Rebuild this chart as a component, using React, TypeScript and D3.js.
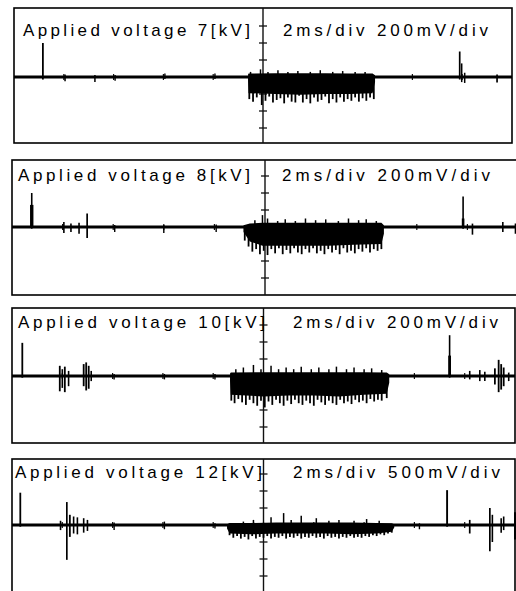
import * as d3 from "d3";

// Oscilloscope traces: time in ms (10 div × 2 ms), amplitude in divisions.
const voltageLabels = ["Applied voltage 7[kV]", "Applied voltage 8[kV]", "Applied voltage 10[kV]", "Applied voltage 12[kV]"];
const scaleLabels = ["2ms/div 200mV/div", "2ms/div 200mV/div", "2ms/div 200mV/div", "2ms/div 500mV/div"];

// isolated pulses: [t, high, low, width]
const pulses7 = [
  [1.16, 2.0, -0.15, 1.8], [2.05, 0.15, -0.25, 1.5], [3.25, 0.12, -0.3, 1.5], [4.06, 0.12, -0.22, 1.4],
  [6.06, 0.2, -0.12, 1.4], [8.07, 0.2, -0.12, 1.4], [17.9, 1.5, -0.15, 1.7], [17.98, 0.8, -0.3, 1.5],
  [18.1, 0.25, -0.35, 1.5], [19.4, 0.15, -0.32, 1.7],
];
const pulses8 = [
  [0.78, 2.0, -0.1, 1.6], [0.78, 1.3, 0, 3.4], [2.05, 0.3, -0.35, 1.6], [2.33, 0.2, -0.3, 1.6],
  [2.65, 0.25, -0.4, 1.6], [2.97, 0.8, -0.65, 1.7], [4.06, 0.12, -0.3, 1.4], [6.0, 0.12, -0.35, 1.4],
  [8.07, 0.15, -0.3, 1.4], [17.83, 1.8, -0.1, 1.6], [17.83, 0.5, 0, 2.6], [18.2, 0.2, -0.45, 1.6],
  [19.4, 0.3, -0.3, 1.6], [19.9, 0.2, -0.4, 1.6],
];
const pulses10 = [
  [0.41, 1.95, -0.1, 1.8], [1.9, 0.6, -0.9, 1.8], [2.0, 0.4, -0.7, 1.6], [2.1, 0.55, -0.95, 1.8],
  [2.25, 0.3, -0.6, 1.6], [2.85, 0.7, -0.6, 1.8], [2.95, 0.8, -0.85, 1.8], [3.05, 0.6, -0.75, 1.8],
  [3.15, 0.3, -0.3, 1.6], [4.06, 0.12, -0.2, 1.4], [6.06, 0.12, -0.2, 1.4], [8.07, 0.12, -0.2, 1.4],
  [17.4, 2.4, -0.1, 1.6], [17.4, 1.2, 0, 2.8], [18.2, 0.3, -0.2, 1.6], [18.6, 0.35, -0.3, 1.6],
  [18.8, 0.25, -0.3, 1.6], [19.2, 0.45, -0.5, 1.8], [19.35, 0.95, -0.95, 1.8], [19.45, 0.7, -0.8, 1.8],
  [19.55, 0.5, -0.6, 1.8], [19.75, 0.2, -0.3, 1.6],
];
const pulses12 = [
  [0.33, 1.9, -0.1, 1.8], [1.93, 0.25, -0.3, 1.6], [2.18, 1.35, -2.05, 1.7], [2.3, 0.6, -0.7, 1.8],
  [2.45, 0.5, -0.5, 1.6], [2.6, 0.45, -0.55, 1.6], [2.85, 0.4, -0.45, 1.6], [3.0, 0.3, -0.35, 1.6],
  [4.06, 0.15, -0.3, 1.4], [6.06, 0.2, -0.25, 1.4], [8.07, 0.1, -0.2, 1.4], [16.2, 0.1, -0.25, 1.4],
  [17.3, 2.05, -0.1, 1.9], [18.2, 0.3, -0.5, 1.7], [19.0, 1.0, -1.55, 1.7], [19.1, 0.6, -1.0, 1.6],
  [19.45, 0.4, -0.45, 1.6], [19.55, 0.5, -0.3, 1.6], [20.0, 0.75, -0.85, 2.0],
];

// burst body envelope: [t, top, bottom]
const body7 = [[9.4, 0.15, -0.2], [9.42, 0.2, -0.95], [10.5, 0.22, -1.0], [11.5, 0.22, -1.05], [12.5, 0.22, -1.0], [13.5, 0.2, -1.0], [14.4, 0.2, -0.95], [14.5, 0.1, -0.3]];
const body8 = [[9.15, 0.1, -0.3], [9.4, 0.2, -0.85], [9.9, 0.25, -1.1], [11, 0.25, -1.1], [12.5, 0.25, -1.1], [13.5, 0.25, -1.05], [14.6, 0.25, -1.0], [14.7, 0.1, -0.4]];
const body10 = [[8.67, 0.15, -0.3], [8.7, 0.2, -1.1], [10, 0.22, -1.2], [11, 0.22, -1.15], [12, 0.22, -1.15], [13, 0.22, -1.2], [14, 0.22, -1.1], [14.9, 0.2, -1.05], [15.0, 0.1, -0.4]];
const body12 = [[8.55, 0.05, -0.2], [8.65, 0.12, -0.5], [9.5, 0.12, -0.55], [10.5, 0.15, -0.5], [11.5, 0.15, -0.5], [12.5, 0.15, -0.5], [13.5, 0.15, -0.55], [14.5, 0.12, -0.5], [15.1, 0.1, -0.4], [15.2, 0.05, -0.15]];

// burst spikes below the body: [t, low]
const low7 = [
  [9.45, -1.3], [9.6, -1.45], [9.75, -1.2], [9.95, -1.65], [10.1, -1.4], [10.25, -1.15], [10.4, -1.5], [10.55, -1.35],
  [10.7, -1.25], [10.85, -1.55], [11.0, -1.2], [11.15, -1.45], [11.3, -1.5], [11.45, -1.1], [11.6, -1.5], [11.75, -1.3],
  [11.9, -1.55], [12.05, -1.2], [12.2, -1.45], [12.35, -1.35], [12.5, -1.15], [12.65, -1.55], [12.8, -1.3], [12.95, -1.5],
  [13.1, -1.2], [13.25, -1.45], [13.4, -1.3], [13.55, -1.4], [13.7, -1.2], [13.85, -1.45], [14.0, -1.25], [14.15, -1.4],
  [14.3, -1.2], [14.45, -1.3],
];
const low8 = [
  [9.2, -0.8], [9.35, -1.15], [9.5, -1.45], [9.65, -1.3], [9.8, -1.6], [9.95, -1.4], [10.1, -1.65], [10.25, -1.3],
  [10.4, -1.55], [10.55, -1.25], [10.7, -1.6], [10.85, -1.35], [11.0, -1.55], [11.15, -1.25], [11.3, -1.5], [11.45, -1.6],
  [11.6, -1.3], [11.75, -1.5], [11.9, -1.25], [12.05, -1.55], [12.2, -1.4], [12.35, -1.6], [12.5, -1.3], [12.65, -1.5],
  [12.8, -1.35], [12.95, -1.6], [13.1, -1.25], [13.25, -1.5], [13.4, -1.4], [13.55, -1.55], [13.7, -1.3], [13.85, -1.45],
  [14.0, -1.25], [14.15, -1.5], [14.3, -1.3], [14.45, -1.4], [14.6, -1.3],
];
const low10 = [
  [8.72, -1.45], [8.85, -1.6], [9.0, -1.35], [9.15, -1.55], [9.3, -1.7], [9.45, -1.4], [9.6, -1.6], [9.75, -1.75],
  [9.9, -1.45], [10.05, -1.85], [10.2, -1.5], [10.35, -1.7], [10.5, -1.4], [10.65, -1.6], [10.8, -1.75], [10.95, -1.45],
  [11.1, -1.65], [11.25, -1.4], [11.4, -1.6], [11.55, -1.7], [11.7, -1.45], [11.85, -1.6], [12.0, -1.75], [12.15, -1.4],
  [12.3, -1.55], [12.45, -1.7], [12.6, -1.45], [12.75, -1.6], [12.9, -1.7], [13.05, -1.4], [13.2, -1.6], [13.35, -1.5],
  [13.5, -1.65], [13.65, -1.4], [13.8, -1.55], [13.95, -1.45], [14.1, -1.6], [14.25, -1.35], [14.4, -1.5], [14.55, -1.4],
  [14.7, -1.45], [14.9, -1.3],
];
const low12 = [
  [8.65, -0.6], [8.8, -0.75], [8.95, -0.65], [9.1, -0.8], [9.25, -0.7], [9.4, -0.85], [9.55, -0.65], [9.7, -0.8],
  [9.85, -0.7], [10.0, -0.75], [10.15, -0.65], [10.3, -0.8], [10.45, -0.7], [10.6, -0.75], [10.75, -0.65], [10.9, -0.8],
  [11.05, -0.7], [11.2, -0.75], [11.35, -0.65], [11.5, -0.8], [11.65, -0.7], [11.8, -0.75], [11.95, -0.65], [12.1, -0.75],
  [12.25, -0.7], [12.4, -0.8], [12.55, -0.65], [12.7, -0.75], [12.85, -0.7], [13.0, -0.8], [13.15, -0.7], [13.3, -0.75],
  [13.45, -0.65], [13.6, -0.75], [13.75, -0.7], [13.9, -0.75], [14.05, -0.65], [14.2, -0.7], [14.35, -0.6], [14.5, -0.65],
  [14.65, -0.55], [14.8, -0.6], [14.95, -0.5], [15.1, -0.45],
];

// burst spikes above the body: [t, high]
const up7 = [[9.5, 0.3], [9.9, 0.45], [10.2, 0.3], [10.6, 0.4], [11.0, 0.3], [11.4, 0.35], [11.9, 0.3], [12.3, 0.4], [12.8, 0.3], [13.2, 0.35], [13.7, 0.3], [14.1, 0.3]];
const up8 = [[9.6, 0.4], [9.9, 0.7], [10.1, 0.5], [10.5, 0.35], [10.8, 0.45], [11.2, 0.35], [11.6, 0.5], [12.0, 0.4], [12.4, 0.45], [12.9, 0.35], [13.3, 0.5], [13.7, 0.4], [14.0, 0.45], [14.4, 0.35]];
const up10 = [[8.9, 0.4], [9.2, 0.5], [9.6, 0.65], [9.9, 0.4], [10.3, 0.6], [10.6, 0.4], [10.9, 0.5], [11.2, 0.4], [11.5, 0.55], [11.9, 0.4], [12.2, 0.5], [12.6, 0.4], [12.9, 0.55], [13.3, 0.4], [13.6, 0.5], [14.0, 0.4], [14.3, 0.45], [14.7, 0.35]];
const up12 = [[9.2, 0.2], [9.6, 0.3], [10.3, 0.45], [10.8, 0.7], [11.1, 0.3], [11.5, 0.55], [12.1, 0.4], [12.6, 0.25], [13.0, 0.3], [13.6, 0.25], [14.1, 0.35], [14.6, 0.25]];

const panels = [
  { left: 14, right: 512, top: 8, bottom: 143, base: 77, labelX: 23, labelW: 227, labelY: 36, scaleX: 283, scaleW: 205, pulses: pulses7, body: body7, low: low7, up: up7 },
  { left: 12, right: 518, top: 160, bottom: 295, base: 227, labelX: 18, labelW: 232, labelY: 181, scaleX: 282, scaleW: 208, pulses: pulses8, body: body8, low: low8, up: up8 },
  { left: 12, right: 515, top: 308, bottom: 443, base: 376, labelX: 18, labelW: 247, labelY: 328, scaleX: 293, scaleW: 205, pulses: pulses10, body: body10, low: low10, up: up10 },
  { left: 12, right: 515, top: 459, bottom: 600, base: 525, labelX: 15, labelW: 247, labelY: 478, scaleX: 293, scaleW: 207, pulses: pulses12, body: body12, low: low12, up: up12 },
];

const DIV = 17; // px per vertical division
const font = "'Liberation Sans', Arial, sans-serif";

function Panel({ p, label, scaleLabel }: { p: (typeof panels)[number]; label: string; scaleLabel: string }) {
  const x = d3.scaleLinear().domain([0, 20]).range([p.left, p.right]);
  const y = d3.scaleLinear().domain([-1, 1]).range([p.base + DIV, p.base - DIV]);
  const area = d3
    .area<number[]>()
    .x((d) => x(d[0]))
    .y0((d) => y(d[2]))
    .y1((d) => y(d[1]));
  const cx = x(10);
  const vTicks = d3.range(-3, 4).filter((v) => v !== 0);
  const hTicks = d3.range(2, 20, 2);

  return (
    <g>
      <rect x={p.left} y={p.top} width={p.right - p.left} height={p.bottom - p.top} fill="none" stroke="#000" strokeWidth={1.6} />
      <line x1={cx} x2={cx} y1={p.top} y2={p.bottom} stroke="#111" strokeWidth={1.4} />
      {vTicks.map((v) => (
        <line key={"v" + v} x1={cx - 4} x2={cx + 4} y1={y(v)} y2={y(v)} stroke="#111" strokeWidth={1.3} />
      ))}
      {hTicks.map((t) => (
        <line key={"h" + t} x1={x(t)} x2={x(t)} y1={y(0.18)} y2={y(-0.18)} stroke="#111" strokeWidth={1.2} />
      ))}
      <line x1={p.left} x2={p.right} y1={p.base} y2={p.base} stroke="#000" strokeWidth={2.8} />
      <path d={area(p.body) ?? ""} fill="#000" />
      {p.low.map((d, i) => (
        <line key={"l" + i} x1={x(d[0])} x2={x(d[0])} y1={p.base} y2={y(d[1])} stroke="#000" strokeWidth={1.8} />
      ))}
      {p.up.map((d, i) => (
        <line key={"u" + i} x1={x(d[0])} x2={x(d[0])} y1={p.base} y2={y(d[1])} stroke="#000" strokeWidth={1.5} />
      ))}
      {p.pulses.map((d, i) => (
        <line key={"p" + i} x1={x(d[0])} x2={x(d[0])} y1={y(d[1])} y2={y(d[2])} stroke="#000" strokeWidth={d[3]} />
      ))}
      <g fontFamily={font} fontSize={17} fill="#000">
        <text x={p.labelX} y={p.labelY} textLength={p.labelW} lengthAdjust="spacing">
          {label}
        </text>
        <text x={p.scaleX} y={p.labelY} textLength={p.scaleW} lengthAdjust="spacing">
          {scaleLabel}
        </text>
      </g>
    </g>
  );
}

export default function App() {
  return (
    <svg width={516} height={591} viewBox="0 0 516 591" style={{ position: "absolute", left: 0, top: 0, background: "#fff" }}>
      <rect width={516} height={591} fill="#fff" />
      {panels.map((p, i) => (
        <Panel key={i} p={p} label={voltageLabels[i]} scaleLabel={scaleLabels[i]} />
      ))}
    </svg>
  );
}
